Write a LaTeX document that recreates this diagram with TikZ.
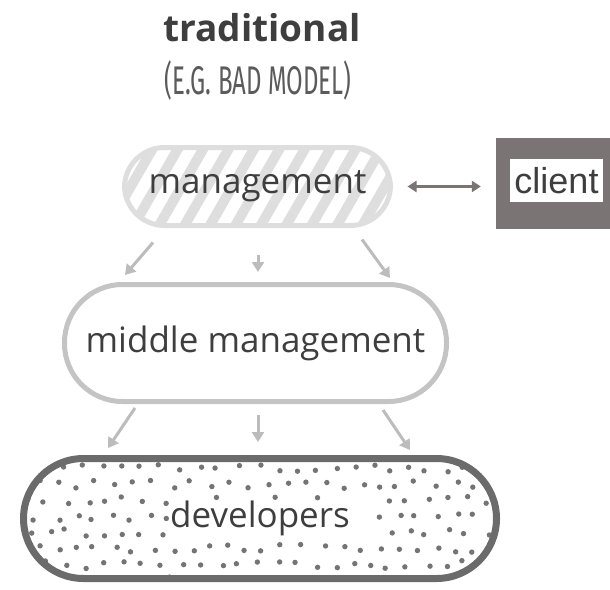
\documentclass[tikz,border=0pt]{standalone}
\usepackage{fontspec}
\setmainfont{Open Sans}
\newfontfamily\clientfont{Liberation Sans}
\newfontfamily\notefont{Fira Sans}
\usetikzlibrary{arrows.meta,patterns.meta}

\definecolor{inkgray}{HTML}{3E3E3E}
\definecolor{hatchgray}{HTML}{DEDEDE}
\definecolor{midgray}{HTML}{C4C4C4}
\definecolor{devgray}{HTML}{6B6B6B}
\definecolor{dotgray}{HTML}{747474}
\definecolor{arrowgray}{HTML}{BCBCBC}
\definecolor{clientgray}{HTML}{7B7474}

\begin{document}
\begin{tikzpicture} [x=1pt, y=-1pt]
    \tikzstyle{every node} = [align=center, text=inkgray]
    \tikzstyle{lbltext} = [font=\fontsize{35}{40}\selectfont]
    \tikzstyle{boss} = [lbltext, draw=hatchgray, line width=5pt, rounded corners=40pt,
        minimum width=266pt, minimum height=78pt,
        pattern={Lines[angle=60,distance=22pt,line width=10pt]}, pattern color=hatchgray]
    \tikzstyle{middle} = [lbltext, draw=midgray, line width=5pt, rounded corners=58pt,
        minimum width=382pt, minimum height=117pt]
    \tikzstyle{devs} = [lbltext, draw=devgray, line width=7pt, rounded corners=60pt,
        minimum width=473pt, minimum height=120pt]
    \tikzstyle{flow} = [draw=arrowgray, line width=3pt, -{Triangle[length=10pt,width=12pt]}]
    \tikzstyle{talk} = [draw=clientgray, line width=3pt,
        {Triangle[length=9pt,width=11pt]}-{Triangle[length=9pt,width=11pt]}]

    \useasboundingbox (0,0) rectangle (610,589);

    % headings
    \node (title) at (262,28) {\fontsize{37}{44}\selectfont\bfseries traditional};
    \node (note) at (258,80) [text=inkgray!85] {\scalebox{0.6}[1]{\notefont\fontsize{40}{44}\selectfont (E.G. BAD MODEL)}};

    % levels
    \node [boss] (mgmt) at (257.5,186.5) {management};
    \node [middle] (mid) at (255.5,343) {middle management};
    \node [devs, path picture={
        \foreach \r in {0,...,7} {
            \foreach \c in {0,...,25} {
                \pgfmathsetmacro\px{\c*19+mod(\r,2)*9+rnd*10}
                \pgfmathsetmacro\py{\r*16+6+rnd*8}
                \pgfmathtruncatemacro\hit{and(abs(\px-248)<100,abs(\py-63)<23)}
                \ifnum\hit=0
                    \fill [dotgray] ([shift={(\px,\py)}]path picture bounding box.north west) circle (2.7pt);
                \fi
            }
        }
    }] (dev) at (260,518.5) {developers};

    % client
    \node [fill=clientgray, minimum width=114pt, minimum height=91pt] (clientbox) at (553,183.5) {};
    \node [fill=white, minimum width=93pt, minimum height=43pt, inner sep=0pt,
        font=\clientfont\fontsize{36}{40}\selectfont] (client) at (556.5,180.5) {client};

    \draw [talk] ([xshift=12pt]mgmt.east) -- ([xshift=-15pt]mgmt.east -| clientbox.west);

    \draw [flow] ([shift={(-104.5,12)}]mgmt.south) -- ([shift={(-130.5,-7)}]mid.north);
    \draw [flow] ([shift={(0.5,24)}]mgmt.south) -- ([shift={(2.5,-10)}]mid.north);
    \draw [flow] ([shift={(104.5,9)}]mgmt.south) -- ([shift={(134.5,-4)}]mid.north);

    \draw [flow] ([shift={(-120.5,4)}]mid.south) -- ([shift={(-152,-7)}]dev.north);
    \draw [flow] ([shift={(2.5,11)}]mid.south) -- ([shift={(-2,-13)}]dev.north);
    \draw [flow] ([shift={(127.5,6)}]mid.south) -- ([shift={(150,-5)}]dev.north);
\end{tikzpicture}
\end{document}
